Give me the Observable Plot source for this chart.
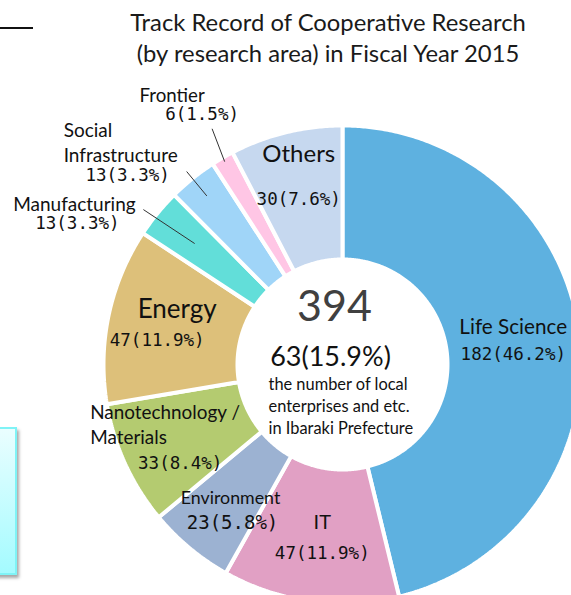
<!DOCTYPE html>
<html><head><meta charset="utf-8">
<script src="https://cdn.jsdelivr.net/npm/d3@7"></script>
<script src="https://cdn.jsdelivr.net/npm/@observablehq/plot@0.6"></script>
<style>
html,body{margin:0;padding:0;background:#fff;}
#page{position:relative;width:571px;height:595px;overflow:hidden;background:#fff;}
#title{position:absolute;left:0;top:0;width:571px;height:70px;}
#title div{position:absolute;left:328px;transform:translateX(-50%);white-space:nowrap;font-family:Lato,sans-serif;font-size:23.8px;color:#1a1a1a;line-height:1;}
#rule{position:absolute;left:0;top:27px;width:33px;height:2px;background:#111;}
#note{position:absolute;left:-20px;top:427px;width:33px;height:144px;border:2px solid #7ff3f6;background:linear-gradient(#eafeff,#a4fbff);box-shadow:2px 3px 3px rgba(0,0,0,0.35);}
#chart{position:absolute;left:0;top:70px;}
</style></head>
<body>
<div id="page">
  <div id="rule"></div>
  <div id="note"></div>
  <div id="title"></div>
  <div id="chart"></div>
</div>
<script>
// ---------------- data ----------------
const titleLines = ["Track Record of Cooperative Research", "(by research area) in Fiscal Year 2015"];
const areaLines = [["Life Science"], ["IT"], ["Environment"], ["Nanotechnology /", "Materials"], ["Energy"],
                   ["Manufacturing"], ["Social", "Infrastructure"], ["Frontier"], ["Others"]];
const counts = [182, 47, 23, 33, 47, 13, 13, 6, 30];
const shares = [46.2, 11.9, 5.8, 8.4, 11.9, 3.3, 3.3, 1.5, 7.6];
const totalCount = 394;
const localCount = 63;
const localShare = 15.9;
const localNote = ["the number of local", "enterprises and etc.", "in Ibaraki Prefecture"];

// ---------------- styles / layout ----------------
const colors = ["#5EB1E0", "#E1A0C4", "#9CB2D2", "#B4CB70", "#DDC07A", "#62DED9", "#A0D5F8", "#FFC6E5", "#C6D8EF"];
const W = 571, H = 525;
const cxPx = 342, cyPx = 294;      // donut centre in svg px
const R = 237;                      // px per unit (outer radius)
const rOuter = 239 / R, rInner = 105 / R, rMid = 172 / R;
// label offsets (px) from each slice's ring centroid: name lines [dx,dy,anchor], number [dx,dy,size]
const nameLayout = [
  {lines: [[0, -17, "middle"]], size: 20.7},
  {lines: [[3, -12, "middle"]], size: 20},
  {lines: [[-2, 2, "middle"]], size: 17.8},
  {lines: [[-96, -23, "start"], [-96, 2, "start"]], size: 18.9},
  {lines: [[3, -19, "middle"]], size: 26},
  {lines: [[-135, -51, "middle"]], size: 19},
  {lines: [[-171, -100, "start"], [-171, -75, "start"]], size: 19},
  {lines: [[-84, -120, "middle"]], size: 18.7},
  {lines: [[-3, -43, "middle"]], size: 24}
];
const numLayout = [[0, 10, 17.5], [3, 18, 17.5], [0, 26, 19], [-6, 27, 17.5], [-17, 11, 17.5], [-132, -32, 17.5], [-107, -55, 17.5], [-54, -101, 17.5], [-3, 2, 17.5]];
// leader lines: start offset (px) from number label, end at radius fraction along slice mid-angle
const leaders = [{i: 5, dx: 66, dy: -14, r: 0.806}, {i: 6, dx: 59, dy: -4, r: 0.913}, {i: 7, dx: 10, dy: 14, r: 0.99}];

// ---------------- build ----------------
document.getElementById("title").innerHTML = titleLines
  .map((t, i) => `<div style="top:${11 + i * 31}px">${t}</div>`).join("");

const data = areaLines.map((l, i) => ({key: l.join(" "), lines: l, count: counts[i], share: shares[i], color: colors[i]}));
const arcs = d3.pie().sort(null).value(d => d.count).startAngle(0).endAngle(2 * Math.PI)(data);

const polar = (a, r) => ({x: r * Math.sin(a), y: r * Math.cos(a)});
const slicePts = [];
arcs.forEach(a => {
  const n = Math.max(6, Math.ceil((a.endAngle - a.startAngle) / 0.008));
  for (let k = 0; k <= n; k++) {
    const t = a.startAngle + (a.endAngle - a.startAngle) * k / n;
    slicePts.push({key: a.data.key, color: a.data.color, ...polar(t, rOuter)});
  }
  for (let k = n; k >= 0; k--) {
    const t = a.startAngle + (a.endAngle - a.startAngle) * k / n;
    slicePts.push({key: a.data.key, color: a.data.color, ...polar(t, rInner)});
  }
});

const centroid = a => polar((a.startAngle + a.endAngle) / 2, rMid);
const nameTexts = [], numTexts = [];
arcs.forEach((a, i) => {
  const c = centroid(a);
  nameLayout[i].lines.forEach(([dx, dy, anchor], j) => {
    nameTexts.push({x: c.x + dx / R, y: c.y - dy / R, text: a.data.lines[j], anchor, size: nameLayout[i].size});
  });
  const [dx, dy, s] = numLayout[i];
  numTexts.push({x: c.x + dx / R, y: c.y - dy / R, text: `${a.data.count}(${a.data.share.toFixed(1)}%)`, size: s});
});
const leaderLinks = leaders.map(({i, dx, dy, r}) => {
  const a = arcs[i];
  const p = polar((a.startAngle + a.endAngle) / 2, r);
  const n = numTexts[i];
  return {x1: n.x + dx / R, y1: n.y - dy / R, x2: p.x, y2: p.y};
});

const textMarks = [];
d3.groups(nameTexts, d => d.size + d.anchor).forEach(([, arr]) => {
  textMarks.push(Plot.text(arr, {x: "x", y: "y", text: "text", textAnchor: arr[0].anchor, fontSize: arr[0].size,
    fontFamily: "Lato, sans-serif", fill: "#111", lineAnchor: "middle"}));
});
d3.groups(numTexts, d => d.size).forEach(([s, arr]) => {
  textMarks.push(Plot.text(arr, {x: "x", y: "y", text: "text", fontSize: s,
    fontFamily: "'DejaVu Sans Mono', monospace", fill: "#111", lineAnchor: "middle"}));
});

// centre texts
const centre = [
  {x: -8 / R, y: 57 / R, text: String(totalCount), size: 43, fill: "#404040"},
  {x: -12 / R, y: 7 / R, text: `${localCount}(${localShare.toFixed(1)}%)`, size: 27, fill: "#111"}
];
const centreNote = localNote.map((t, j) => ({x: -74 / R, y: (-20 - 22 * j) / R, text: t}));

const chart = Plot.plot({
  width: W, height: H, margin: 0,
  x: {domain: [-cxPx / R, (W - cxPx) / R], range: [0, W], axis: null},
  y: {domain: [-(H - cyPx) / R, cyPx / R], range: [H, 0], axis: null},
  color: {type: "identity"},
  style: {background: "transparent", overflow: "visible"},
  marks: [
    Plot.line(slicePts, {x: "x", y: "y", z: "key", fill: "color", stroke: "white", strokeWidth: 4,
      curve: "linear-closed", strokeLinejoin: "miter"}),
    Plot.link(leaderLinks, {x1: "x1", y1: "y1", x2: "x2", y2: "y2", stroke: "#333", strokeWidth: 1}),
    ...textMarks,
    ...centre.map(c => Plot.text([c], {x: "x", y: "y", text: "text", fontSize: c.size, fill: c.fill,
      fontFamily: "Lato, sans-serif", lineAnchor: "middle"})),
    Plot.text(centreNote, {x: "x", y: "y", text: "text", fontSize: 16.4, textAnchor: "start",
      fontFamily: "Lato, sans-serif", fill: "#111", lineAnchor: "middle"})
  ]
});
document.getElementById("chart").appendChild(chart);
</script>
</body></html>
